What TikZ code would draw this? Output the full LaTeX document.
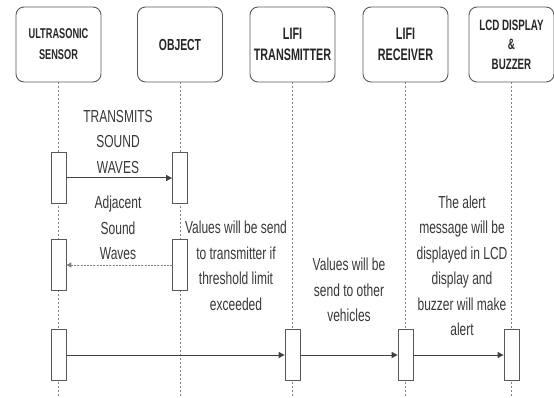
\documentclass[tikz,border=0pt]{standalone}
\usepackage{fontspec}
\setmainfont[FakeStretch=0.69]{Liberation Sans}
\newfontfamily\hdfont[FakeStretch=0.65]{Liberation Sans}
\usetikzlibrary{arrows.meta}
\begin{document}
\begin{tikzpicture}[x=1pt,y=-1pt,
 head/.style={draw=black!65, line width=0.9pt, rounded corners=8pt, minimum width=85pt, minimum height=75pt, align=center, text=black!85, inner sep=1pt},
 hs/.style={font=\hdfont\fontsize{#1}{21}\selectfont\bfseries},
 life/.style={draw=black!50, line width=0.8pt, dash pattern=on 2pt off 2pt},
 bar/.style={draw=black!65, fill=white, line width=0.8pt, minimum width=15pt, minimum height=51pt, inner sep=0pt},
 msg/.style={draw=black!75, line width=1pt, -{Triangle[length=6pt,width=6pt]}},
 reply/.style={draw=black!50, line width=1pt, dash pattern=on 2pt off 1.2pt, -{Triangle[length=5pt,width=5pt]}},
 lbl/.style={align=center, font=\fontsize{17.4}{25.5}\selectfont, text=black!78, inner sep=0pt}]
\useasboundingbox (0,0) rectangle (554,398);
% headers
\node[head, hs=14.2] (h1) at (58.5,44.5) {ULTRASONIC\\SENSOR};
\node[head, hs=16] (h2) at (180,44.5) {OBJECT};
\node[head, hs=16.6] (h3) at (292.5,44.5) {LIFI\\TRANSMITTER};
\node[head, hs=16.6] (h4) at (405.5,44.5) {LIFI\\RECEIVER};
\node[head, font=\hdfont\fontsize{15}{19.5}\selectfont\bfseries] (h5) at (511.5,44.5) {LCD DISPLAY\\\&\\BUZZER};
% lifelines
\coordinate (e1) at (58.5,398);
\coordinate (e2) at (180,398);
\coordinate (e3) at (292.5,398);
\coordinate (e4) at (405.5,398);
\coordinate (e5) at (511.5,398);
\draw[life] (h1) -- (e1);
\draw[life] (h2) -- (e2);
\draw[life] (h3) -- (e3);
\draw[life] (h4) -- (e4);
\draw[life] (h5) -- (e5);
% activation bars
\node[bar] (a1) at (58.5,178) {};
\node[bar] (a2) at (180,178) {};
\node[bar] (b1) at (58.5,265) {};
\node[bar] (b2) at (180,265) {};
\node[bar] (c1) at (58.5,355) {};
\node[bar] (c3) at (292.5,355) {};
\node[bar] (c4) at (405.5,355) {};
\node[bar] (c5) at (511.5,355) {};
% messages
\draw[msg] (a1.east) -- (a2.west);
\draw[reply] (b2.west) -- (b1.east);
\draw[msg] (c1.east) -- (c3.west);
\draw[msg] (c3.east) -- (c4.west);
\draw[msg] (c4.east) -- (c5.west);
% labels
\node[lbl] (t1) at (118,142) {TRANSMITS\\SOUND\\WAVES};
\node[lbl] (t2) at (118,228) {Adjacent\\Sound\\Waves};
\node[lbl] (t3) at (236,266) {Values will be send\\to transmitter if\\threshold limit\\exceeded};
\node[lbl] (t4) at (349,290) {Values will be\\send to other\\vehicles};
\node[lbl] (t5) at (462,266) {The alert\\message will be\\displayed in LCD\\display and\\buzzer will make\\alert};
\end{tikzpicture}
\end{document}
